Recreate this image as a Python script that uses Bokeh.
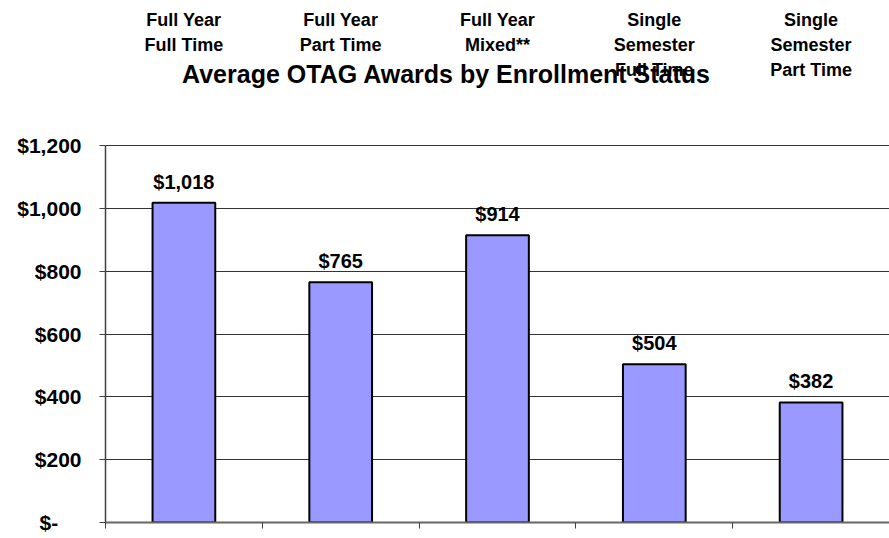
from bokeh.plotting import figure
from bokeh.models import FixedTicker, Label, ColumnDataSource
from bokeh.core.properties import value
from bokeh.embed import file_html
from bokeh.resources import INLINE
import numpy as np

categories = ["Full Year\nFull Time", "Full Year\nPart Time", "Full Year\nMixed**",
              "Single\nSemester\nFull Time", "Single\nSemester\nPart Time"]
awards = [1018, 765, 914, 504, 382]
award_labels = ["$1,018", "$765", "$914", "$504", "$382"]
y_ticks = [0, 200, 400, 600, 800, 1000, 1200]
y_tick_labels = ["$-\u00a0\u00a0\u00a0\u00a0", "$200", "$400", "$600", "$800", "$1,000", "$1,200"]
title_text = "Average OTAG Awards by Enrollment Status"

FONT = "Liberation Sans"
W, H = 889, 538
frame_left = 105
frame_h = 522           # frame from canvas top down to y=522
px_per_1200 = 377.0     # pixel height of 0..1200 in reference
y_end = 1200 * frame_h / px_per_1200

xs = np.arange(len(categories)) + 0.5
src = ColumnDataSource(dict(x=xs, top=awards, lab=award_labels, cat=categories,
                            ytop=[y_end] * len(categories)))

p = figure(width=W, height=H, output_backend="svg", toolbar_location=None,
           title=None, x_range=(0, len(categories)), y_range=(0, y_end),
           min_border_left=frame_left, min_border_right=0, min_border_top=0,
           min_border_bottom=H - frame_h)
p.outline_line_color = None
p.background_fill_color = "white"
p.border_fill_color = "white"

p.vbar(x="x", top="top", width=0.4, bottom=0, source=src,
       fill_color="#9999FF", line_color="black", line_width=2)

p.text(x="x", y="top", text="lab", source=src, text_align="center",
       text_baseline="bottom", y_offset=-10, text_font=value(FONT),
       text_font_style="bold", text_font_size="20px", text_color="black")

p.text(x="x", y="ytop", text="cat", source=src, text_align="center",
       text_baseline="top", y_offset=9, text_font=value(FONT),
       text_font_style="bold", text_font_size="18px", text_color="black",
       text_line_height=1.25)

title_y = y_end * (1 - 73 / frame_h)
p.add_layout(Label(x=446 - frame_left, x_units="screen", y=title_y, text=title_text,
                   text_align="center", text_baseline="middle",
                   text_font=FONT, text_font_style="bold", text_font_size="25px",
                   text_color="black"))

# y axis
p.yaxis.ticker = FixedTicker(ticks=y_ticks)
p.yaxis.major_label_overrides = {t: l for t, l in zip(y_ticks, y_tick_labels)}
p.yaxis.bounds = (0, 1200)
p.yaxis.axis_line_color = "#404040"
p.yaxis.axis_line_width = 1.5
p.yaxis.major_tick_in = 0
p.yaxis.major_tick_out = 6
p.yaxis.major_tick_line_color = "#404040"
p.yaxis.minor_tick_line_color = None
p.yaxis.major_label_standoff = 18
p.yaxis.major_label_text_font = FONT
p.yaxis.major_label_text_font_style = "bold"
p.yaxis.major_label_text_font_size = "21px"
p.yaxis.major_label_text_color = "black"

# x axis: ticks at category boundaries, no labels
x_bounds = list(range(len(categories) + 1))
p.xaxis.ticker = FixedTicker(ticks=x_bounds)
p.xaxis.major_label_overrides = {t: "" for t in x_bounds}
p.xaxis.major_label_standoff = 0
p.xaxis.axis_line_color = "#666666"
p.xaxis.axis_line_width = 2
p.xaxis.major_tick_in = 0
p.xaxis.major_tick_out = 6
p.xaxis.major_tick_line_color = "#404040"
p.xaxis.minor_tick_line_color = None

p.xgrid.grid_line_color = None
p.ygrid.ticker = FixedTicker(ticks=y_ticks)
p.ygrid.grid_line_color = "#333333"
p.ygrid.grid_line_width = 1

open("out.html", "w").write(file_html(p, INLINE))
